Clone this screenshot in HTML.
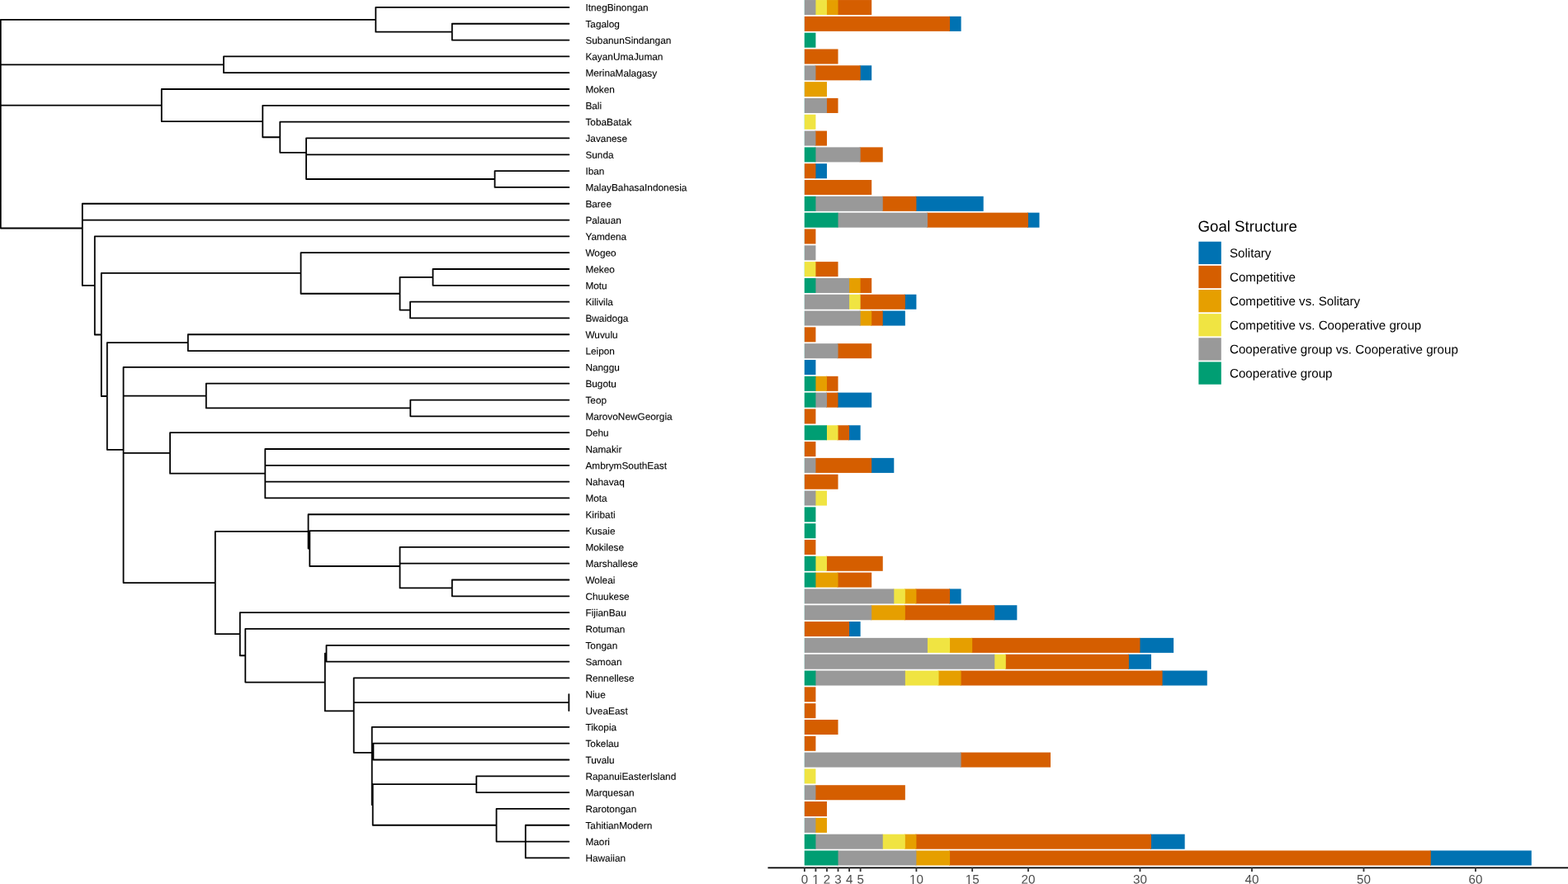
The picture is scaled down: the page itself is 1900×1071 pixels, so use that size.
<!DOCTYPE html>
<html lang="en"><head><meta charset="utf-8"><title>Goal Structure by language phylogeny</title>
<style>html,body{margin:0;padding:0;background:#fff}svg{display:block}text{font-family:"Liberation Sans",sans-serif;text-rendering:geometricPrecision}.tip{font-size:11.83px;fill:#000;stroke:#000;stroke-width:0.1px}.ax{font-size:15.15px;fill:#4D4D4D;text-anchor:middle}.lg{font-size:15.15px;fill:#000}.lt{font-size:18.7px;fill:#000}</style></head><body>
<svg width="1900" height="1071" viewBox="0 0 1900 1071">
<rect width="1900" height="1071" fill="#fff"/>
<path d="M455.3 8.94L689.45 8.94M547.8 28.76L689.45 28.76M547.8 48.57L689.45 48.57M547.8 28.76L547.8 48.57M455.3 38.66L547.8 38.66M455.3 8.94L455.3 38.66M0.8 23.8L455.3 23.8M271.05 68.39L689.45 68.39M271.05 88.21L689.45 88.21M271.05 68.39L271.05 88.21M0.8 78.3L271.05 78.3M195.8 108.02L689.45 108.02M318.3 127.84L689.45 127.84M339.3 147.65L689.45 147.65M371.05 167.47L689.45 167.47M371.05 187.29L689.45 187.29M599.55 207.1L689.45 207.1M599.55 226.92L689.45 226.92M599.55 207.1L599.55 226.92M371.05 217.01L599.55 217.01M371.05 187.29L371.05 217.01M371.05 167.47L371.05 202.15M339.3 184.81L371.05 184.81M339.3 147.65L339.3 184.81M318.3 166.23L339.3 166.23M318.3 127.84L318.3 166.23M195.8 147.03L318.3 147.03M195.8 108.02L195.8 147.03M0.8 127.53L195.8 127.53M99.8 246.74L689.45 246.74M99.8 266.55L689.45 266.55M114.8 286.37L689.45 286.37M364.55 306.18L689.45 306.18M524.55 326L689.45 326M524.55 345.82L689.45 345.82M524.55 326L524.55 345.82M484.55 335.91L524.55 335.91M497.05 365.63L689.45 365.63M497.05 385.45L689.45 385.45M497.05 365.63L497.05 385.45M484.55 375.54L497.05 375.54M484.55 335.91L484.55 375.54M364.55 355.73L484.55 355.73M364.55 306.18L364.55 355.73M122.8 330.95L364.55 330.95M227.8 405.27L689.45 405.27M227.8 425.08L689.45 425.08M227.8 405.27L227.8 425.08M129.8 415.17L227.8 415.17M149.55 444.9L689.45 444.9M249.8 464.71L689.45 464.71M497.3 484.53L689.45 484.53M497.3 504.35L689.45 504.35M497.3 484.53L497.3 504.35M249.8 494.44L497.3 494.44M249.8 464.71L249.8 494.44M149.55 479.58L249.8 479.58M206.05 524.16L689.45 524.16M321.3 543.98L689.45 543.98M321.3 563.8L689.45 563.8M321.3 583.61L689.45 583.61M321.3 603.43L689.45 603.43M321.3 543.98L321.3 603.43M206.05 573.7L321.3 573.7M206.05 524.16L206.05 573.7M149.55 548.93L206.05 548.93M373.55 623.25L689.45 623.25M375.3 643.06L689.45 643.06M484.55 662.88L689.45 662.88M484.55 682.69L689.45 682.69M547.8 702.51L689.45 702.51M547.8 722.33L689.45 722.33M547.8 702.51L547.8 722.33M484.55 712.42L547.8 712.42M484.55 662.88L484.55 712.42M375.3 686L484.55 686M375.3 643.06L375.3 686M373.55 664.53L375.3 664.53M373.55 623.25L373.55 664.53M260.8 643.89L373.55 643.89M290.8 742.14L689.45 742.14M297.3 761.96L689.45 761.96M395.5 781.78L689.45 781.78M395.5 801.59L689.45 801.59M395.5 781.78L395.5 801.59M393.8 791.68L395.5 791.68M428.7 821.41L689.45 821.41M689.35 841.22L689.35 861.04M428.7 851.13L689.35 851.13M450.7 880.86L689.45 880.86M452.4 900.67L689.45 900.67M452.4 920.49L689.45 920.49M452.4 900.67L452.4 920.49M450.7 910.58L452.4 910.58M577.3 940.31L689.45 940.31M577.3 960.12L689.45 960.12M577.3 940.31L577.3 960.12M451.7 950.21L577.3 950.21M601.55 979.94L689.45 979.94M636.8 999.75L689.45 999.75M636.8 1019.57L689.45 1019.57M636.8 1039.39L689.45 1039.39M636.8 999.75L636.8 1039.39M601.55 1019.57L636.8 1019.57M601.55 979.94L601.55 1019.57M451.7 999.75L601.55 999.75M451.7 950.21L451.7 999.75M450.7 974.98L451.7 974.98M450.7 910.58L450.7 974.98M450.7 880.86L450.7 942.78M428.7 911.82L450.7 911.82M428.7 821.41L428.7 911.82M393.8 861.45L428.7 861.45M393.8 791.68L393.8 861.45M297.3 826.57L393.8 826.57M297.3 761.96L297.3 826.57M290.8 794.26L297.3 794.26M290.8 742.14L290.8 794.26M260.8 768.2L290.8 768.2M260.8 643.89L260.8 768.2M149.55 706.05L260.8 706.05M149.55 444.9L149.55 706.05M129.8 544.86L149.55 544.86M129.8 415.17L129.8 544.86M122.8 480.02L129.8 480.02M122.8 330.95L122.8 480.02M114.8 405.49L122.8 405.49M114.8 286.37L114.8 405.49M99.8 345.93L114.8 345.93M99.8 266.55L99.8 345.93M99.8 246.74L99.8 306.24M0.8 276.49L99.8 276.49M0.8 23.8L0.8 276.49" fill="none" stroke="#000" stroke-width="1.8" stroke-linecap="round"/>
<g class="tip">
<text transform="matrix(1 0.0005 0 1 709.4 13.34)">ItnegBinongan</text>
<text transform="matrix(1 0.0005 0 1 709.4 33.16)">Tagalog</text>
<text transform="matrix(1 0.0005 0 1 709.4 52.97)">SubanunSindangan</text>
<text transform="matrix(1 0.0005 0 1 709.4 72.79)">KayanUmaJuman</text>
<text transform="matrix(1 0.0005 0 1 709.4 92.61)">MerinaMalagasy</text>
<text transform="matrix(1 0.0005 0 1 709.4 112.42)">Moken</text>
<text transform="matrix(1 0.0005 0 1 709.4 132.24)">Bali</text>
<text transform="matrix(1 0.0005 0 1 709.4 152.05)">TobaBatak</text>
<text transform="matrix(1 0.0005 0 1 709.4 171.87)">Javanese</text>
<text transform="matrix(1 0.0005 0 1 709.4 191.69)">Sunda</text>
<text transform="matrix(1 0.0005 0 1 709.4 211.5)">Iban</text>
<text transform="matrix(1 0.0005 0 1 709.4 231.32)">MalayBahasaIndonesia</text>
<text transform="matrix(1 0.0005 0 1 709.4 251.14)">Baree</text>
<text transform="matrix(1 0.0005 0 1 709.4 270.95)">Palauan</text>
<text transform="matrix(1 0.0005 0 1 709.4 290.77)">Yamdena</text>
<text transform="matrix(1 0.0005 0 1 709.4 310.58)">Wogeo</text>
<text transform="matrix(1 0.0005 0 1 709.4 330.4)">Mekeo</text>
<text transform="matrix(1 0.0005 0 1 709.4 350.22)">Motu</text>
<text transform="matrix(1 0.0005 0 1 709.4 370.03)">Kilivila</text>
<text transform="matrix(1 0.0005 0 1 709.4 389.85)">Bwaidoga</text>
<text transform="matrix(1 0.0005 0 1 709.4 409.67)">Wuvulu</text>
<text transform="matrix(1 0.0005 0 1 709.4 429.48)">Leipon</text>
<text transform="matrix(1 0.0005 0 1 709.4 449.3)">Nanggu</text>
<text transform="matrix(1 0.0005 0 1 709.4 469.11)">Bugotu</text>
<text transform="matrix(1 0.0005 0 1 709.4 488.93)">Teop</text>
<text transform="matrix(1 0.0005 0 1 709.4 508.75)">MarovoNewGeorgia</text>
<text transform="matrix(1 0.0005 0 1 709.4 528.56)">Dehu</text>
<text transform="matrix(1 0.0005 0 1 709.4 548.38)">Namakir</text>
<text transform="matrix(1 0.0005 0 1 709.4 568.2)">AmbrymSouthEast</text>
<text transform="matrix(1 0.0005 0 1 709.4 588.01)">Nahavaq</text>
<text transform="matrix(1 0.0005 0 1 709.4 607.83)">Mota</text>
<text transform="matrix(1 0.0005 0 1 709.4 627.65)">Kiribati</text>
<text transform="matrix(1 0.0005 0 1 709.4 647.46)">Kusaie</text>
<text transform="matrix(1 0.0005 0 1 709.4 667.28)">Mokilese</text>
<text transform="matrix(1 0.0005 0 1 709.4 687.09)">Marshallese</text>
<text transform="matrix(1 0.0005 0 1 709.4 706.91)">Woleai</text>
<text transform="matrix(1 0.0005 0 1 709.4 726.73)">Chuukese</text>
<text transform="matrix(1 0.0005 0 1 709.4 746.54)">FijianBau</text>
<text transform="matrix(1 0.0005 0 1 709.4 766.36)">Rotuman</text>
<text transform="matrix(1 0.0005 0 1 709.4 786.18)">Tongan</text>
<text transform="matrix(1 0.0005 0 1 709.4 805.99)">Samoan</text>
<text transform="matrix(1 0.0005 0 1 709.4 825.81)">Rennellese</text>
<text transform="matrix(1 0.0005 0 1 709.4 845.62)">Niue</text>
<text transform="matrix(1 0.0005 0 1 709.4 865.44)">UveaEast</text>
<text transform="matrix(1 0.0005 0 1 709.4 885.26)">Tikopia</text>
<text transform="matrix(1 0.0005 0 1 709.4 905.07)">Tokelau</text>
<text transform="matrix(1 0.0005 0 1 709.4 924.89)">Tuvalu</text>
<text transform="matrix(1 0.0005 0 1 709.4 944.71)">RapanuiEasterIsland</text>
<text transform="matrix(1 0.0005 0 1 709.4 964.52)">Marquesan</text>
<text transform="matrix(1 0.0005 0 1 709.4 984.34)">Rarotongan</text>
<text transform="matrix(1 0.0005 0 1 709.4 1004.15)">TahitianModern</text>
<text transform="matrix(1 0.0005 0 1 709.4 1023.97)">Maori</text>
<text transform="matrix(1 0.0005 0 1 709.4 1043.79)">Hawaiian</text>
</g>
<g>
<rect x="974" y="0.03" width="1" height="18.03" fill="#D2F4EF"/>
<rect x="1014.54" y="0.03" width="41.66" height="18.03" fill="#D55E00"/>
<rect x="1000.98" y="0.03" width="14.55" height="18.03" fill="#E69F00"/>
<rect x="987.43" y="0.03" width="14.55" height="18.03" fill="#F0E442"/>
<rect x="974.88" y="0.03" width="13.55" height="18.03" fill="#999999"/>
<rect x="974" y="19.85" width="1" height="18.03" fill="#D2F4EF"/>
<rect x="1150.06" y="19.85" width="14.55" height="18.03" fill="#0072B2"/>
<rect x="974.88" y="19.85" width="176.18" height="18.03" fill="#D55E00"/>
<rect x="974" y="39.67" width="1" height="18.03" fill="#D2F4EF"/>
<rect x="974.88" y="39.67" width="13.55" height="18.03" fill="#009E73"/>
<rect x="974" y="59.48" width="1" height="18.03" fill="#D2F4EF"/>
<rect x="974.88" y="59.48" width="40.66" height="18.03" fill="#D55E00"/>
<rect x="974" y="79.3" width="1" height="18.03" fill="#D2F4EF"/>
<rect x="1041.64" y="79.3" width="14.55" height="18.03" fill="#0072B2"/>
<rect x="987.43" y="79.3" width="55.21" height="18.03" fill="#D55E00"/>
<rect x="974.88" y="79.3" width="13.55" height="18.03" fill="#999999"/>
<rect x="974" y="99.12" width="1" height="18.03" fill="#D2F4EF"/>
<rect x="974.88" y="99.12" width="27.1" height="18.03" fill="#E69F00"/>
<rect x="974" y="118.93" width="1" height="18.03" fill="#D2F4EF"/>
<rect x="1000.98" y="118.93" width="14.55" height="18.03" fill="#D55E00"/>
<rect x="974.88" y="118.93" width="27.1" height="18.03" fill="#999999"/>
<rect x="974" y="138.75" width="1" height="18.03" fill="#D2F4EF"/>
<rect x="974.88" y="138.75" width="13.55" height="18.03" fill="#F0E442"/>
<rect x="974" y="158.57" width="1" height="18.03" fill="#D2F4EF"/>
<rect x="987.43" y="158.57" width="14.55" height="18.03" fill="#D55E00"/>
<rect x="974.88" y="158.57" width="13.55" height="18.03" fill="#999999"/>
<rect x="974" y="178.38" width="1" height="18.03" fill="#D2F4EF"/>
<rect x="1041.64" y="178.38" width="28.1" height="18.03" fill="#D55E00"/>
<rect x="987.43" y="178.38" width="55.21" height="18.03" fill="#999999"/>
<rect x="974.88" y="178.38" width="13.55" height="18.03" fill="#009E73"/>
<rect x="974" y="198.2" width="1" height="18.03" fill="#D2F4EF"/>
<rect x="987.43" y="198.2" width="14.55" height="18.03" fill="#0072B2"/>
<rect x="974.88" y="198.2" width="13.55" height="18.03" fill="#D55E00"/>
<rect x="974" y="218.01" width="1" height="18.03" fill="#D2F4EF"/>
<rect x="974.88" y="218.01" width="81.31" height="18.03" fill="#D55E00"/>
<rect x="974" y="237.83" width="1" height="18.03" fill="#D2F4EF"/>
<rect x="1109.4" y="237.83" width="82.31" height="18.03" fill="#0072B2"/>
<rect x="1068.74" y="237.83" width="41.66" height="18.03" fill="#D55E00"/>
<rect x="987.43" y="237.83" width="82.31" height="18.03" fill="#999999"/>
<rect x="974.88" y="237.83" width="13.55" height="18.03" fill="#009E73"/>
<rect x="974" y="257.65" width="1" height="18.03" fill="#D2F4EF"/>
<rect x="1244.92" y="257.65" width="14.55" height="18.03" fill="#0072B2"/>
<rect x="1122.95" y="257.65" width="122.97" height="18.03" fill="#D55E00"/>
<rect x="1014.54" y="257.65" width="109.42" height="18.03" fill="#999999"/>
<rect x="974.88" y="257.65" width="40.66" height="18.03" fill="#009E73"/>
<rect x="974" y="277.46" width="1" height="18.03" fill="#D2F4EF"/>
<rect x="974.88" y="277.46" width="13.55" height="18.03" fill="#D55E00"/>
<rect x="974" y="297.28" width="1" height="18.03" fill="#D2F4EF"/>
<rect x="974.88" y="297.28" width="13.55" height="18.03" fill="#999999"/>
<rect x="974" y="317.1" width="1" height="18.03" fill="#D2F4EF"/>
<rect x="987.43" y="317.1" width="28.1" height="18.03" fill="#D55E00"/>
<rect x="974.88" y="317.1" width="13.55" height="18.03" fill="#F0E442"/>
<rect x="974" y="336.91" width="1" height="18.03" fill="#D2F4EF"/>
<rect x="1041.64" y="336.91" width="14.55" height="18.03" fill="#D55E00"/>
<rect x="1028.09" y="336.91" width="14.55" height="18.03" fill="#E69F00"/>
<rect x="987.43" y="336.91" width="41.66" height="18.03" fill="#999999"/>
<rect x="974.88" y="336.91" width="13.55" height="18.03" fill="#009E73"/>
<rect x="974" y="356.73" width="1" height="18.03" fill="#D2F4EF"/>
<rect x="1095.85" y="356.73" width="14.55" height="18.03" fill="#0072B2"/>
<rect x="1041.64" y="356.73" width="55.21" height="18.03" fill="#D55E00"/>
<rect x="1028.09" y="356.73" width="14.55" height="18.03" fill="#F0E442"/>
<rect x="974.88" y="356.73" width="54.21" height="18.03" fill="#999999"/>
<rect x="974" y="376.54" width="1" height="18.03" fill="#D2F4EF"/>
<rect x="1068.74" y="376.54" width="28.1" height="18.03" fill="#0072B2"/>
<rect x="1055.19" y="376.54" width="14.55" height="18.03" fill="#D55E00"/>
<rect x="1041.64" y="376.54" width="14.55" height="18.03" fill="#E69F00"/>
<rect x="974.88" y="376.54" width="67.76" height="18.03" fill="#999999"/>
<rect x="974" y="396.36" width="1" height="18.03" fill="#D2F4EF"/>
<rect x="974.88" y="396.36" width="13.55" height="18.03" fill="#D55E00"/>
<rect x="974" y="416.18" width="1" height="18.03" fill="#D2F4EF"/>
<rect x="1014.54" y="416.18" width="41.66" height="18.03" fill="#D55E00"/>
<rect x="974.88" y="416.18" width="40.66" height="18.03" fill="#999999"/>
<rect x="974" y="435.99" width="1" height="18.03" fill="#D2F4EF"/>
<rect x="974.88" y="435.99" width="13.55" height="18.03" fill="#0072B2"/>
<rect x="974" y="455.81" width="1" height="18.03" fill="#D2F4EF"/>
<rect x="1000.98" y="455.81" width="14.55" height="18.03" fill="#D55E00"/>
<rect x="987.43" y="455.81" width="14.55" height="18.03" fill="#E69F00"/>
<rect x="974.88" y="455.81" width="13.55" height="18.03" fill="#009E73"/>
<rect x="974" y="475.63" width="1" height="18.03" fill="#D2F4EF"/>
<rect x="1014.54" y="475.63" width="41.66" height="18.03" fill="#0072B2"/>
<rect x="1000.98" y="475.63" width="14.55" height="18.03" fill="#D55E00"/>
<rect x="987.43" y="475.63" width="14.55" height="18.03" fill="#999999"/>
<rect x="974.88" y="475.63" width="13.55" height="18.03" fill="#009E73"/>
<rect x="974" y="495.44" width="1" height="18.03" fill="#D2F4EF"/>
<rect x="974.88" y="495.44" width="13.55" height="18.03" fill="#D55E00"/>
<rect x="974" y="515.26" width="1" height="18.03" fill="#D2F4EF"/>
<rect x="1028.09" y="515.26" width="14.55" height="18.03" fill="#0072B2"/>
<rect x="1014.54" y="515.26" width="14.55" height="18.03" fill="#D55E00"/>
<rect x="1000.98" y="515.26" width="14.55" height="18.03" fill="#F0E442"/>
<rect x="974.88" y="515.26" width="27.1" height="18.03" fill="#009E73"/>
<rect x="974" y="535.08" width="1" height="18.03" fill="#D2F4EF"/>
<rect x="974.88" y="535.08" width="13.55" height="18.03" fill="#D55E00"/>
<rect x="974" y="554.89" width="1" height="18.03" fill="#D2F4EF"/>
<rect x="1055.19" y="554.89" width="28.1" height="18.03" fill="#0072B2"/>
<rect x="987.43" y="554.89" width="68.76" height="18.03" fill="#D55E00"/>
<rect x="974.88" y="554.89" width="13.55" height="18.03" fill="#999999"/>
<rect x="974" y="574.71" width="1" height="18.03" fill="#D2F4EF"/>
<rect x="974.88" y="574.71" width="40.66" height="18.03" fill="#D55E00"/>
<rect x="974" y="594.52" width="1" height="18.03" fill="#D2F4EF"/>
<rect x="987.43" y="594.52" width="14.55" height="18.03" fill="#F0E442"/>
<rect x="974.88" y="594.52" width="13.55" height="18.03" fill="#999999"/>
<rect x="974" y="614.34" width="1" height="18.03" fill="#D2F4EF"/>
<rect x="974.88" y="614.34" width="13.55" height="18.03" fill="#009E73"/>
<rect x="974" y="634.16" width="1" height="18.03" fill="#D2F4EF"/>
<rect x="974.88" y="634.16" width="13.55" height="18.03" fill="#009E73"/>
<rect x="974" y="653.97" width="1" height="18.03" fill="#D2F4EF"/>
<rect x="974.88" y="653.97" width="13.55" height="18.03" fill="#D55E00"/>
<rect x="974" y="673.79" width="1" height="18.03" fill="#D2F4EF"/>
<rect x="1000.98" y="673.79" width="68.76" height="18.03" fill="#D55E00"/>
<rect x="987.43" y="673.79" width="14.55" height="18.03" fill="#F0E442"/>
<rect x="974.88" y="673.79" width="13.55" height="18.03" fill="#009E73"/>
<rect x="974" y="693.61" width="1" height="18.03" fill="#D2F4EF"/>
<rect x="1014.54" y="693.61" width="41.66" height="18.03" fill="#D55E00"/>
<rect x="987.43" y="693.61" width="28.1" height="18.03" fill="#E69F00"/>
<rect x="974.88" y="693.61" width="13.55" height="18.03" fill="#009E73"/>
<rect x="974" y="713.42" width="1" height="18.03" fill="#D2F4EF"/>
<rect x="1150.06" y="713.42" width="14.55" height="18.03" fill="#0072B2"/>
<rect x="1109.4" y="713.42" width="41.66" height="18.03" fill="#D55E00"/>
<rect x="1095.85" y="713.42" width="14.55" height="18.03" fill="#E69F00"/>
<rect x="1082.3" y="713.42" width="14.55" height="18.03" fill="#F0E442"/>
<rect x="974.88" y="713.42" width="108.42" height="18.03" fill="#999999"/>
<rect x="974" y="733.24" width="1" height="18.03" fill="#D2F4EF"/>
<rect x="1204.26" y="733.24" width="28.1" height="18.03" fill="#0072B2"/>
<rect x="1095.85" y="733.24" width="109.42" height="18.03" fill="#D55E00"/>
<rect x="1055.19" y="733.24" width="41.66" height="18.03" fill="#E69F00"/>
<rect x="974.88" y="733.24" width="81.31" height="18.03" fill="#999999"/>
<rect x="974" y="753.05" width="1" height="18.03" fill="#D2F4EF"/>
<rect x="1028.09" y="753.05" width="14.55" height="18.03" fill="#0072B2"/>
<rect x="974.88" y="753.05" width="54.21" height="18.03" fill="#D55E00"/>
<rect x="974" y="772.87" width="1" height="18.03" fill="#D2F4EF"/>
<rect x="1380.44" y="772.87" width="41.66" height="18.03" fill="#0072B2"/>
<rect x="1177.16" y="772.87" width="204.28" height="18.03" fill="#D55E00"/>
<rect x="1150.06" y="772.87" width="28.1" height="18.03" fill="#E69F00"/>
<rect x="1122.95" y="772.87" width="28.1" height="18.03" fill="#F0E442"/>
<rect x="974.88" y="772.87" width="149.07" height="18.03" fill="#999999"/>
<rect x="974" y="792.69" width="1" height="18.03" fill="#D2F4EF"/>
<rect x="1366.89" y="792.69" width="28.1" height="18.03" fill="#0072B2"/>
<rect x="1217.82" y="792.69" width="150.07" height="18.03" fill="#D55E00"/>
<rect x="1204.26" y="792.69" width="14.55" height="18.03" fill="#F0E442"/>
<rect x="974.88" y="792.69" width="230.38" height="18.03" fill="#999999"/>
<rect x="974" y="812.5" width="1" height="18.03" fill="#D2F4EF"/>
<rect x="1407.54" y="812.5" width="55.21" height="18.03" fill="#0072B2"/>
<rect x="1163.61" y="812.5" width="244.94" height="18.03" fill="#D55E00"/>
<rect x="1136.5" y="812.5" width="28.1" height="18.03" fill="#E69F00"/>
<rect x="1095.85" y="812.5" width="41.66" height="18.03" fill="#F0E442"/>
<rect x="987.43" y="812.5" width="109.42" height="18.03" fill="#999999"/>
<rect x="974.88" y="812.5" width="13.55" height="18.03" fill="#009E73"/>
<rect x="974" y="832.32" width="1" height="18.03" fill="#D2F4EF"/>
<rect x="974.88" y="832.32" width="13.55" height="18.03" fill="#D55E00"/>
<rect x="974" y="852.14" width="1" height="18.03" fill="#D2F4EF"/>
<rect x="974.88" y="852.14" width="13.55" height="18.03" fill="#D55E00"/>
<rect x="974" y="871.95" width="1" height="18.03" fill="#D2F4EF"/>
<rect x="974.88" y="871.95" width="40.66" height="18.03" fill="#D55E00"/>
<rect x="974" y="891.77" width="1" height="18.03" fill="#D2F4EF"/>
<rect x="974.88" y="891.77" width="13.55" height="18.03" fill="#D55E00"/>
<rect x="974" y="911.58" width="1" height="18.03" fill="#D2F4EF"/>
<rect x="1163.61" y="911.58" width="109.42" height="18.03" fill="#D55E00"/>
<rect x="974.88" y="911.58" width="189.73" height="18.03" fill="#999999"/>
<rect x="974" y="931.4" width="1" height="18.03" fill="#D2F4EF"/>
<rect x="974.88" y="931.4" width="13.55" height="18.03" fill="#F0E442"/>
<rect x="974" y="951.22" width="1" height="18.03" fill="#D2F4EF"/>
<rect x="987.43" y="951.22" width="109.42" height="18.03" fill="#D55E00"/>
<rect x="974.88" y="951.22" width="13.55" height="18.03" fill="#999999"/>
<rect x="974" y="971.03" width="1" height="18.03" fill="#D2F4EF"/>
<rect x="974.88" y="971.03" width="27.1" height="18.03" fill="#D55E00"/>
<rect x="974" y="990.85" width="1" height="18.03" fill="#D2F4EF"/>
<rect x="987.43" y="990.85" width="14.55" height="18.03" fill="#E69F00"/>
<rect x="974.88" y="990.85" width="13.55" height="18.03" fill="#999999"/>
<rect x="974" y="1010.67" width="1" height="18.03" fill="#D2F4EF"/>
<rect x="1393.99" y="1010.67" width="41.66" height="18.03" fill="#0072B2"/>
<rect x="1109.4" y="1010.67" width="285.59" height="18.03" fill="#D55E00"/>
<rect x="1095.85" y="1010.67" width="14.55" height="18.03" fill="#E69F00"/>
<rect x="1068.74" y="1010.67" width="28.1" height="18.03" fill="#F0E442"/>
<rect x="987.43" y="1010.67" width="82.31" height="18.03" fill="#999999"/>
<rect x="974.88" y="1010.67" width="13.55" height="18.03" fill="#009E73"/>
<rect x="974" y="1030.48" width="1" height="18.03" fill="#D2F4EF"/>
<rect x="1732.79" y="1030.48" width="122.97" height="18.03" fill="#0072B2"/>
<rect x="1150.06" y="1030.48" width="583.74" height="18.03" fill="#D55E00"/>
<rect x="1109.4" y="1030.48" width="41.66" height="18.03" fill="#E69F00"/>
<rect x="1014.54" y="1030.48" width="95.86" height="18.03" fill="#999999"/>
<rect x="974.88" y="1030.48" width="40.66" height="18.03" fill="#009E73"/>
</g>
<path d="M930.45 1051.3L1900 1051.3" stroke="#000" stroke-width="1.75" fill="none"/>
<path d="M974.88 1051.3L974.88 1055.94M988.43 1051.3L988.43 1055.94M1001.98 1051.3L1001.98 1055.94M1015.54 1051.3L1015.54 1055.94M1029.09 1051.3L1029.09 1055.94M1042.64 1051.3L1042.64 1055.94M1110.4 1051.3L1110.4 1055.94M1178.16 1051.3L1178.16 1055.94M1245.92 1051.3L1245.92 1055.94M1381.44 1051.3L1381.44 1055.94M1516.96 1051.3L1516.96 1055.94M1652.48 1051.3L1652.48 1055.94M1788 1051.3L1788 1055.94" stroke="#333" stroke-width="1.8" fill="none"/>
<g class="ax">
<text transform="matrix(1 0.0005 0 1 974.88 1070.45)">0</text>
<text transform="matrix(1 0.0005 0 1 988.43 1070.45)">1</text>
<text transform="matrix(1 0.0005 0 1 1001.98 1070.45)">2</text>
<text transform="matrix(1 0.0005 0 1 1015.54 1070.45)">3</text>
<text transform="matrix(1 0.0005 0 1 1029.09 1070.45)">4</text>
<text transform="matrix(1 0.0005 0 1 1042.64 1070.45)">5</text>
<text transform="matrix(1 0.0005 0 1 1110.4 1070.45)">10</text>
<text transform="matrix(1 0.0005 0 1 1178.16 1070.45)">15</text>
<text transform="matrix(1 0.0005 0 1 1245.92 1070.45)">20</text>
<text transform="matrix(1 0.0005 0 1 1381.44 1070.45)">30</text>
<text transform="matrix(1 0.0005 0 1 1516.96 1070.45)">40</text>
<text transform="matrix(1 0.0005 0 1 1652.48 1070.45)">50</text>
<text transform="matrix(1 0.0005 0 1 1788 1070.45)">60</text>
</g>
<rect x="984.62" y="1069" width="7.6" height="2" fill="#fff"/>
<rect x="988.05" y="1069" width="1.35" height="2" fill="#4D4D4D"/>
<rect x="1102.37" y="1069" width="7.6" height="2" fill="#fff"/>
<rect x="1105.8" y="1069" width="1.35" height="2" fill="#4D4D4D"/>
<rect x="1170.13" y="1069" width="7.6" height="2" fill="#fff"/>
<rect x="1173.56" y="1069" width="1.35" height="2" fill="#4D4D4D"/>
<text class="lt" transform="matrix(1 0.0005 0 1 1451.45 280.45)">Goal Structure</text>
<rect x="1452.4" y="292.72" width="27.4" height="27.3" fill="#0072B2"/>
<text class="lg" transform="matrix(1 0.0005 0 1 1489.95 311.77)">Solitary</text>
<rect x="1452.4" y="321.86" width="27.4" height="27.3" fill="#D55E00"/>
<text class="lg" transform="matrix(1 0.0005 0 1 1489.95 340.91)">Competitive</text>
<rect x="1452.4" y="351" width="27.4" height="27.3" fill="#E69F00"/>
<text class="lg" transform="matrix(1 0.0005 0 1 1489.95 370.05)">Competitive vs. Solitary</text>
<rect x="1452.4" y="380.14" width="27.4" height="27.3" fill="#F0E442"/>
<text class="lg" transform="matrix(1 0.0005 0 1 1489.95 399.19)">Competitive vs. Cooperative group</text>
<rect x="1452.4" y="409.28" width="27.4" height="27.3" fill="#999999"/>
<text class="lg" transform="matrix(1 0.0005 0 1 1489.95 428.33)">Cooperative group vs. Cooperative group</text>
<rect x="1452.4" y="438.42" width="27.4" height="27.3" fill="#009E73"/>
<text class="lg" transform="matrix(1 0.0005 0 1 1489.95 457.47)">Cooperative group</text>
</svg></body></html>
